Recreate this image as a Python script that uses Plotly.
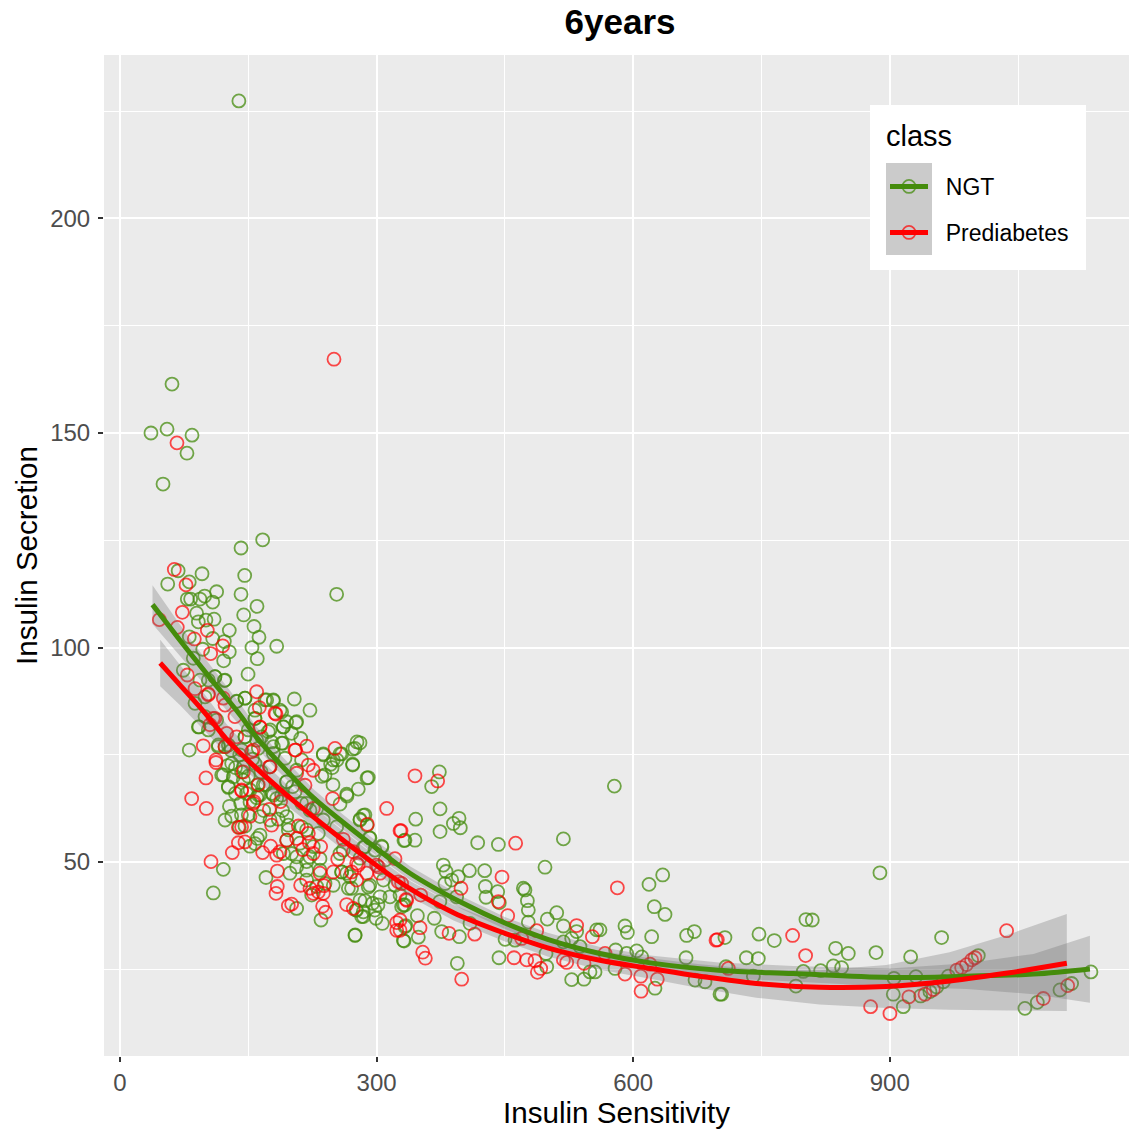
import plotly.graph_objects as go

ngt_x = [139,60.8,55,36.2,84.2,78.3,50.3,68,55.8,81,95.9,141.5,166.8,145.8,141.5,113,253.3,78.7,82.6,93.5,99,108.4,160.2,144.6,89.6,110,91.6,100.5,156.7,127.8,162.5,81,108.4,122,154.3,183.2,96.7,127.8,160.5,121.2,85.7,74,149.7,122,111,93.5,203.8,136.4,146.2,171.5,179.3,222.1,189,157.8,191,205.8,173.4,211.3,81,92.4,190.2,237.7,257.2,115,122.8,146.2,159.8,179.3,113,
 122.8,130.6,120.8,109.1,139.5,146.1,152,157.8,163.7,160.6,170.7,206.5,235,274.7,331.3,120.8,126.7,141.1,142.2,130.6,161,272,290.3,278.6,265,257.2,237.7,246.3,239.7,274.7,280.6,259.2,249.4,284.5,280.6,291.5,305.9,333.2,284.5,194.9,206.5,201.9,183.2,194.9,196.8,175.4,163.7,218.2,229.9,237.7,253.3,231.9,218.2,196.8,191,206.5,222.1,233.8,206.5,198.7,218.2,233.8,218.2,249.4,259.2,267,280.6,304,315.7,295.4,275.9,282.5,299.3,306.7,290.3,331.3,284.5,265,229.9,307.9,
 130,135,126,140,150,155,148,160,165,170,128,135,142,152,168,178,185,190,
 373.4,364.4,374.2,345.7,396.4,389.8,397.9,374.2,344.9,332,418.2,442.4,518.4,578,496.9,378,381.2,395.6,387.8,408.5,426.4,380,427.2,427.9,441.6,443.5,471.6,473.5,476.3,477.4,393.6,374,367.5,347.7,334,348.8,332.1,376.1,396.8,394.4,443.1,450.2,461.8,477.4,499.6,510.6,518.4,528.1,533.9,557.3,561.2,590.4,593.2,621.6,618.5,634.5,624.7,637.2,662.5,671.5,661.8,579.5,604.1,592.4,610,578.8,518.4,537.8,498.9,498.1,555.4,549.5,528.1,542.5,625.5,672.3,684,701.5,409.2,
 888.5,707.3,747.1,765,732.3,746.3,802,809.4,836.7,851.5,883.9,924.4,960.6,703.4,708.5,740.5,798.9,819.2,834,843.7,790.3,904.9,930.6,904.1,915.8,936.1,947,954.8,962.6,968.4,1003.5,1058,1072.5,1099,1112.6,1135.2,
 277.1,272,272,288.8,265.4,249,253.7,248,236,280.6,286.4,288.8,292.3,280.6,298,306.3,310,292,286.4,301.6,321.5,327.4,333,275,298,
 103.3,111,122.8,136.4,146.1,157.8,169.5,179.3,187.1,194.8,206.5,191,200.7,175.4,157.8,150,91.6,99.4,103.3,146.1,165.6,177.3,189,115,126.7,142.2,161.7,179.3,192.9,212.3,118.9,132.5,144.2,157.8,175.4,126.7,144.2,152,167.6,179.3,194.8,204.6,189,161.7,99.4,87.7,
 163.7,150,212.4,222.1,212.4,194.9,226,210.4,200.7,218.2,239.7,224.1,270.8,257.2,286.4,261,259.1,329.3,276.7,284.5,333.2,268.9]
ngt_y = [227.4,161.4,150.9,150,149.5,145.3,138.1,117.9,114.8,115.3,117.2,123.2,125.1,116.8,112.4,113,112.4,111.3,111.3,111.3,112,110.6,109.6,107.6,108,106.6,106,106.4,104.9,104,102.4,102.5,102.1,101.4,100,100.3,99.6,99,97.4,96.9,97.5,94.7,93.8,92.3,93.2,92.4,88,87.5,88.2,87.8,87.6,85.4,85,83.4,81.5,82.5,80.4,78.8,76.1,81.5,77.7,75,75.2,76.9,76.9,79.2,78.4,76.9,83.1,
 59.8,60.7,48.3,42.8,58.1,58.4,53.7,54.3,56.3,55.5,46.4,39.2,36.5,32.9,31.7,70.3,67.4,63.7,71,73,68,72.8,69.7,67,65.8,63.5,75.2,72.8,70.3,76.5,77.8,75.2,73.8,60.9,59.8,55.7,53.7,55.1,53.4,68.7,71.4,67.6,64.8,60.6,58.6,59.8,60.6,63.7,62.5,59.8,58.2,56.7,57.5,57.5,52,51.2,51.2,50.8,48.9,47.4,48.1,48.1,45.8,44.6,47.7,43.9,41.1,41.9,41.9,40.4,38.8,37.3,36.9,35.7,44.2,40,38.4,47.4,44.3,45.8,
 76,72,72.5,75,70,74,66,65,71,68,63,66,61,64,62,66,60,62,
 71,67.6,62.4,60,60.2,59,58,57.1,55.1,55,54.5,54.1,55.4,67.7,48.8,49.3,47.8,46.6,45.8,48,48,45,44.3,41.8,43.1,40.5,43.9,43.5,41,38.8,41.9,40.8,36.9,37.5,35.2,32.5,31.6,33.8,32.6,26.4,27.7,32,31.8,36,36.7,38.2,35.1,32.2,33.8,34.2,34.2,35.1,33.6,32.6,44.8,47,39.6,37.8,32.9,33.8,27.7,29.5,29.3,28.7,27.9,25.2,31.4,30.3,25.6,28.7,24.4,24.4,22.6,22.7,20.6,22.5,22.1,19.2,35.7,
 47.5,32.4,33.2,31.7,27.7,27.5,36.6,36.5,29.9,28.7,28.9,27.9,32.4,19.2,25.6,23.4,24.5,24.7,25.8,25.4,21.1,22.9,23.3,19.2,16.3,18.8,19.8,20.9,22.1,23.4,28.2,15.9,17.3,20.2,21.7,24.4,
 78,76.3,72.6,69.6,65.4,68,73.8,72,70,60,61,58.6,55.6,50.9,52.8,53.5,50.5,44.6,41,40,44.6,42.3,40,33,38.8,
 92.4,93.2,92.4,87.4,88.2,85.4,87.8,87.8,85.4,82.7,82.7,81.5,80,80.8,83.5,80.8,81.5,83.9,80.8,79.2,79.2,78,77.7,77.3,77.3,76.1,76.5,75.3,74.2,73.8,70.3,69.9,72.2,73,72.2,67.6,69.1,66.8,68,65.6,68.7,66.4,65.6,65.6,88.5,87,
 65.6,61,63.7,62.1,58.2,55.1,53.6,54.4,52,50.1,45,42.3,43.9,52,53.6,52.8,47.7,39.6,38.8,37.3,34.9,46.6]

pre_x = [250.2,66.6,63.5,77.2,72.9,46,67,102.1,86.9,120.1,106,78.7,87.7,103.3,159.8,162.9,182.4,120.8,163.7,109,136.4,97.4,204.6,218.3,251.4,124.7,155.8,112.2,
 112.2,100.5,83.8,100.9,142.2,156.7,174.6,152,177.3,138.4,208.5,194.9,206.5,146.1,138.4,131.3,176.1,166.8,183.2,213.6,221.4,234.6,226,254.5,248.6,289.2,311.8,327.4,321.5,106.4,184,249.4,211.2,183.9,182.4,196.8,200.7,236.9,240.4,265,226,238.5,231.9,323.5,323.5,226,220.2,174.6,216.3,206.5,187.8,226,261.1,278.6,288.4,300,325.4,334.4,276.7,
 344.9,371.4,328.6,462.6,446.6,398.7,351.6,335.2,442.4,453.3,581.5,533.9,552.3,696.8,350.8,384.7,414.7,487.2,469.6,353.9,357,399.5,460.7,475.5,485.2,488,491.9,518.4,522.3,542.5,567.1,590.4,608.8,628.2,619.7,609.2,327.4,327.4,329.3,
 698.4,786.4,801.6,711.2,1036.6,877.6,900.2,922.4,941.2,950.9,978.2,984,989.8,995.7,999.6,1079.5,1108,
 181.2,163.7,103.3,122.8,134.4,111,105.2,153.9,205.4,122.8,175.4,144.2,142.2,161.7,
 155.9,142.2,187,220.2,222.1,237.7,233.8,270.8,272.8,276.7,302,304,272.8]
pre_y = [167.2,147.7,118.2,114.6,108.2,106.5,104.7,104,102,100.4,98.6,93.6,90.4,89.2,89.7,86,84.5,88.2,81.4,83.5,79.2,77.1,76.1,77,76.5,80,76.1,73.8,
 73.2,69.6,64.8,62.5,66.6,64.1,62.3,60.7,58.6,58.1,58.4,55.1,55.5,54.7,54.5,52.2,53.7,52.2,51.6,52.9,54.5,53.6,52,50.7,64.8,58.8,62.5,57.3,50.8,50.1,47.9,47.7,44.6,44.3,42.7,39.8,40.2,39.7,38.3,40.1,42.7,44.5,43,35.9,34.1,71.4,72.6,72.2,67.9,70.7,64.1,62.5,55.3,49.3,47.4,49.3,45.4,41.3,45.8,
 70.1,68.9,57.3,54.4,46.5,43.9,42.3,41.1,40.8,37.5,44,35.2,32.6,31.8,34.7,33.4,33.2,34,32.2,29,27.6,22.7,27.7,27.2,27,24.3,25.2,27.2,26.6,26.4,28.7,23.9,23.4,22.7,26.2,19.9,36.5,34.1,45,
 31.9,32.9,28.2,25.2,34,16.3,14.7,18.6,19.2,20.3,24.8,25.4,26.1,27.2,27.7,18.2,21.2,
 84.7,81.5,89,86.6,83.9,83.5,82,75.7,76.1,76.9,72.2,71,66.8,68,
 63.7,58.2,52.4,56.7,43.9,42.7,47.4,47.7,52.4,49.7,48.9,47.4,39.2]

ngt_fit_x = [38,60,80,109,140,160,183,226,260,292,339,400,450,500,561,620,700,787,900,990,1068,1134]
ngt_fit_y = [110,104.3,99.2,92,84.4,79,73.8,65,59.4,54.4,47.4,40.5,35.8,32,28.7,26.5,24.8,24,23.1,23.4,23.9,25.1]
ngt_hi = [114.5,108.1,102.5,95,87,81.4,76,67,61.2,56.1,49,42,37.2,33.5,30.2,28.2,26.6,25.8,25.2,26.4,28.6,32.8]
ngt_lo = [105.5,100.5,95.9,89,81.8,76.6,71.6,63,57.6,52.7,45.8,39,34.4,30.5,27.2,24.8,23,22.2,21,20.4,19.2,17.2]

pre_fit_x = [47,70,100,124.7,148,195,253,300,339,390,450,500,561,620,678,744,818,896,970,1040,1107]
pre_fit_y = [96.4,91.3,84.6,78.6,74,65.6,56.3,49.2,43.8,38.2,33.4,30,27.1,25.2,23.4,21.7,20.8,21,22.3,24.2,26.4]
pre_hi = [101.8,96,88.8,82.1,77,68.1,58.5,51.2,45.6,40,35.3,32,29.3,27.6,26.2,25,24.8,26,29,33.2,37.9]
pre_lo = [91,86.6,80.4,75.1,71,63.1,54.1,47.2,42,36.4,31.5,28,24.9,22.8,20.6,18.4,16.8,16,15.6,15.4,15.3]

GREEN = "#458c0c"
GREEN_PT = "rgba(70,140,15,0.75)"
RED = "#ff0000"
RED_PT = "rgba(255,0,0,0.7)"
RIBBON = "rgba(110,110,110,0.3)"

point_style = dict(symbol="circle-open", size=13, line=dict(width=1.8))

fig = go.Figure()
fig.add_trace(go.Scatter(x=ngt_x, y=ngt_y, mode="markers", showlegend=False,
    marker=dict(color=GREEN_PT, **point_style)))
fig.add_trace(go.Scatter(x=pre_x, y=pre_y, mode="markers", showlegend=False,
    marker=dict(color=RED_PT, **point_style)))

for fx, hi, lo in [(ngt_fit_x, ngt_hi, ngt_lo), (pre_fit_x, pre_hi, pre_lo)]:
    fig.add_trace(go.Scatter(x=fx + fx[::-1], y=hi + lo[::-1], mode="lines", fill="toself",
        fillcolor=RIBBON, line=dict(width=0), hoverinfo="skip", showlegend=False))

fig.add_trace(go.Scatter(x=ngt_fit_x, y=ngt_fit_y, mode="lines", showlegend=False,
    line=dict(color=GREEN, width=5, shape="spline")))
fig.add_trace(go.Scatter(x=pre_fit_x, y=pre_fit_y, mode="lines", showlegend=False,
    line=dict(color=RED, width=5, shape="spline")))

NB = "\u00a0\u00a0"
fig.add_trace(go.Scatter(x=[None], y=[None], mode="lines+markers", name=NB + "NGT", legend="legend",
    line=dict(color=GREEN, width=5), marker=dict(color=GREEN_PT, **point_style)))
fig.add_trace(go.Scatter(x=[None], y=[None], mode="lines+markers", name=NB + "Prediabetes", legend="legend2",
    line=dict(color=RED, width=5), marker=dict(color=RED_PT, **point_style)))

W, H = 1129, 1131
L, R, T, B = 104, 0, 55, 75
pw, ph = W - L - R, H - T - B
def px(v): return (v - L) / pw
def py(v): return 1 - (v - T) / ph

legend_common = dict(xanchor="left", yanchor="top", bgcolor="rgba(0,0,0,0)",
                     font=dict(size=23, color="black"), itemwidth=38)

fig.update_layout(
    width=W, height=H,
    margin=dict(l=L, r=R, t=T, b=B, autoexpand=False),
    paper_bgcolor="white", plot_bgcolor="#ebebeb",
    font=dict(family="Liberation Sans, Arial, sans-serif", color="black"),
    title=dict(text="<b>6years</b>", x=620 / W, xanchor="center", y=1 - 22 / H, yanchor="middle",
               font=dict(size=35, color="black")),
    xaxis=dict(range=[-18.7, 1179.7], tickvals=[0, 300, 600, 900], ticks="outside", ticklen=5,
               tickwidth=1.5, tickcolor="#333333", tickfont=dict(size=24, color="#4d4d4d"),
               gridcolor="white", gridwidth=2.2, zeroline=False, showline=False,
               minor=dict(tickvals=[150, 450, 750, 1050], showgrid=True, gridcolor="white", gridwidth=1.1, ticks=""),
               title=dict(text="Insulin Sensitivity", font=dict(size=29.6, color="black"), standoff=6)),
    yaxis=dict(range=[4.8, 238.1], tickvals=[50, 100, 150, 200], ticks="outside", ticklen=5,
               ticklabelstandoff=3,
               tickwidth=1.5, tickcolor="#333333", tickfont=dict(size=24, color="#4d4d4d"),
               gridcolor="white", gridwidth=2.2, zeroline=False, showline=False,
               minor=dict(tickvals=[25, 75, 125, 175, 225], showgrid=True, gridcolor="white", gridwidth=1.1, ticks=""),
               title=dict(text="Insulin Secretion", font=dict(size=29.6, color="black"), standoff=3)),
    legend=dict(x=px(885), y=py(165), **legend_common),
    legend2=dict(x=px(885), y=py(211), **legend_common),
    annotations=[dict(text="class", xref="paper", yref="paper", x=px(884), y=py(136), xanchor="left",
                      yanchor="middle", showarrow=False, font=dict(size=29, color="black"))],
    shapes=[
        dict(type="rect", xref="paper", yref="paper", x0=px(870), x1=px(1086), y0=py(270), y1=py(105),
             fillcolor="white", line=dict(width=0), layer="above"),
        dict(type="rect", xref="paper", yref="paper", x0=px(886), x1=px(932), y0=py(255), y1=py(163),
             fillcolor="#cbcbcb", line=dict(width=0), layer="above"),
    ],
)

fig.write_html("out.html", config=dict(displayModeBar=False), post_script="document.body.style.margin='0';")
